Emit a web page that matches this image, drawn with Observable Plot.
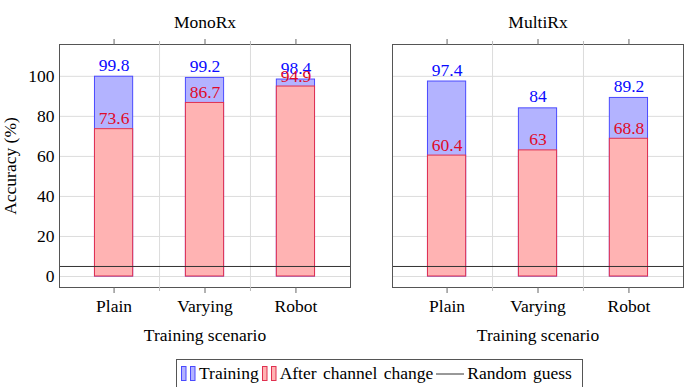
<!DOCTYPE html>
<html><head><meta charset="utf-8">
<script src="https://cdn.jsdelivr.net/npm/d3@7"></script>
<script src="https://cdn.jsdelivr.net/npm/@observablehq/plot@0.6"></script>
<style>
body{margin:0;background:#fff;font-family:"Liberation Serif","Times New Roman",Times,serif;}
#wrap{position:relative;width:687px;height:387px;overflow:hidden;}
#chart svg{font-family:"Liberation Serif","Times New Roman",Times,serif !important;font-size:17.5px;}
#chart svg text{font-family:"Liberation Serif","Times New Roman",Times,serif !important;}
#legend{position:absolute;left:176px;top:359px;width:407px;height:32px;border:1px solid #555;box-sizing:border-box;
  display:flex;align-items:center;gap:3px;padding:0 0 4px 4px;font-size:17.5px;word-spacing:2px;color:#000;}
#legend svg{display:block;}
</style></head><body>
<div id="wrap">
<div id="chart"></div>
<div id="legend"></div>
</div>
<script>
const panels = ["MonoRx", "MultiRx"];
const scenarios = ["Plain", "Varying", "Robot"];
const trainingMono = [99.8, 99.2, 98.4];
const afterMono = [73.6, 86.7, 94.9];
const trainingMulti = [97.4, 84, 89.2];
const afterMulti = [60.4, 63, 68.8];
const randomGuess = 5;
const yTicks = [0, 20, 40, 60, 80, 100];
const seriesNames = ["Training", "After channel change", "Random guess"];

const blueText = "#0a0aff", redText = "#e00a28";
const blueFill = "#b3b3ff", redFill = "#ffb3b3";
const blueStroke = "#4a4aff", redStroke = "#e03050";
const fs = 17.5;

const rows = [];
[[trainingMono, afterMono], [trainingMulti, afterMulti]].forEach(([t, a], p) => {
  scenarios.forEach((s, i) => rows.push({panel: panels[p], i, scenario: s, training: t[i], after: a[i]}));
});
const hw = 0.21;

const plot = Plot.plot({
  width: 687, height: 352,
  marginTop: 44, marginBottom: 65, marginLeft: 59, marginRight: 3,
  style: {background: "white", color: "#000", overflow: "visible"},
  fx: {domain: panels, paddingInner: 0.125, paddingOuter: 0},
  x: {domain: [-0.6, 2.6]},
  y: {domain: [-5.5, 115.9]},
  marks: [
    Plot.gridY(yTicks, {stroke: "#dcdcdc", strokeOpacity: 1}),
    Plot.gridX([0.5, 1.5], {stroke: "#dcdcdc", strokeOpacity: 1}),
    Plot.rectY(rows, {fx: "panel", x1: d => d.i - hw, x2: d => d.i + hw, y1: 0, y2: "training", fill: blueFill, stroke: blueStroke}),
    Plot.rectY(rows, {fx: "panel", x1: d => d.i - hw, x2: d => d.i + hw, y1: 0, y2: "after", fill: redFill, stroke: redStroke}),
    Plot.ruleY([randomGuess], {stroke: "#333", strokeWidth: 1}),
    Plot.text(rows, {fx: "panel", x: "i", y: "training", text: d => String(d.training), lineAnchor: "bottom", dy: -6, fill: blueText, fontSize: fs}),
    Plot.text(rows, {fx: "panel", x: "i", y: "after", text: d => String(d.after), lineAnchor: "bottom", dy: -5, fill: redText, fontSize: fs}),
    Plot.frame({stroke: "#555"}),
    Plot.axisY(yTicks, {tickSize: 0, tickPadding: 5, fontSize: fs, label: "Accuracy (%)", labelAnchor: "center", labelArrow: "none", labelOffset: 56}),
    Plot.axisX([0, 1, 2], {anchor: "bottom", tickFormat: i => scenarios[i], tickSize: 6, tickPadding: 6, fontSize: fs, label: null, stroke: "#666"}),
    Plot.axisX([0, 1, 2], {anchor: "top", tickFormat: () => "", tickSize: 6, label: null, stroke: "#666"}),
    Plot.axisX([0.5, 1.5], {anchor: "bottom", tickFormat: () => "", tickSize: 4, label: null, stroke: "#bbb"}),
    Plot.axisX([0.5, 1.5], {anchor: "top", tickFormat: () => "", tickSize: 4, label: null, stroke: "#bbb"}),
    Plot.axisFx({anchor: "top", tickSize: 0, tickPadding: 17, fontSize: fs, label: null}),
    Plot.text(panels, {fx: d => d, text: () => "Training scenario", frameAnchor: "bottom", dy: 48, lineAnchor: "middle", fontSize: fs})
  ]
});
document.getElementById("chart").appendChild(plot);

const barIcon = (fill, stroke) => `<svg width="15" height="15"><rect x="0.5" y="0.5" width="4.5" height="14" fill="${fill}" stroke="${stroke}"/><rect x="9.5" y="0.5" width="4.5" height="14" fill="${fill}" stroke="${stroke}"/></svg>`;
const lineIcon = `<svg width="28" height="15"><line x1="0" x2="28" y1="8" y2="8" stroke="#333" stroke-width="1"/></svg>`;
document.getElementById("legend").innerHTML =
  barIcon(blueFill, blueStroke) + `<span>${seriesNames[0]}</span>` +
  barIcon(redFill, redStroke) + `<span>${seriesNames[1]}</span>` +
  lineIcon + `<span>${seriesNames[2]}</span>`;
</script>
</body></html>
